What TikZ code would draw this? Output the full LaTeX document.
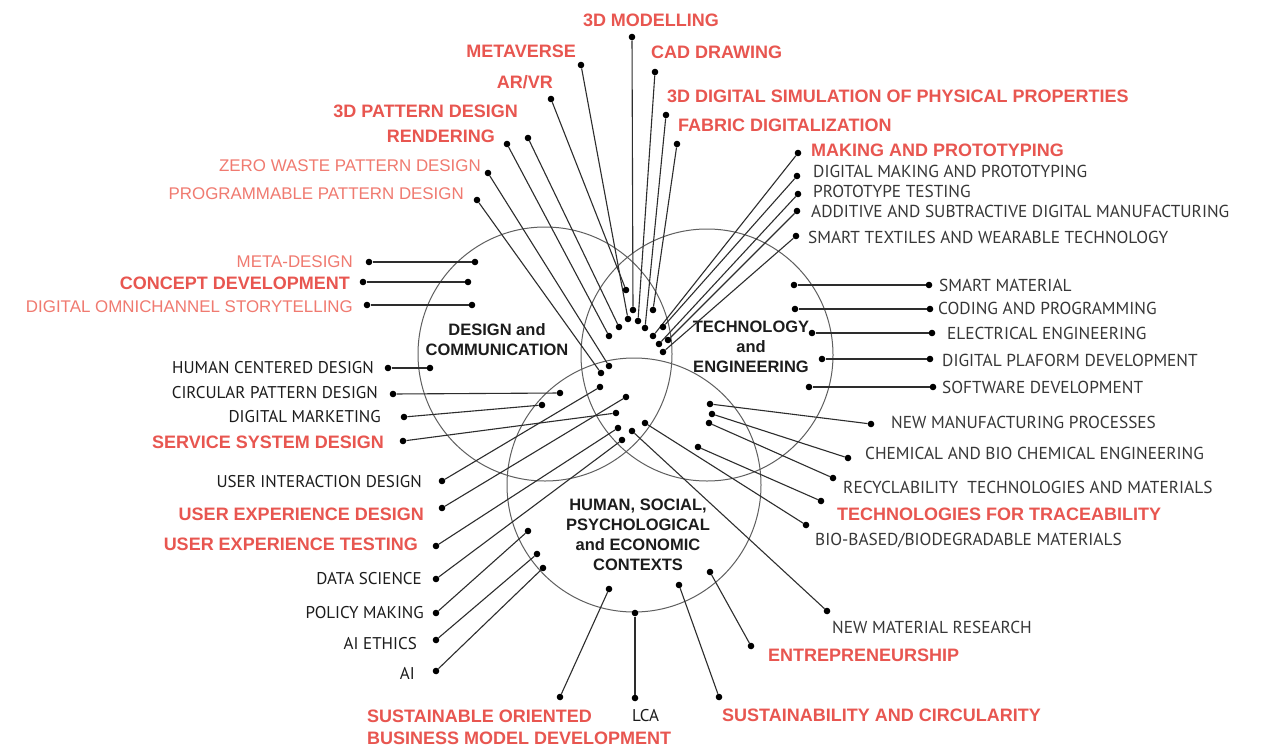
\documentclass[tikz,border=0pt]{standalone}
\usepackage{fontspec}
\setmainfont{Liberation Sans}
\newfontfamily\graysans{PT Sans}
\definecolor{redb}{RGB}{232,86,80}
\definecolor{redl}{RGB}{240,122,112}
\definecolor{inkd}{RGB}{28,28,28}
\definecolor{inkg}{RGB}{55,55,55}
\definecolor{ringc}{RGB}{95,95,95}
\definecolor{linkc}{RGB}{45,45,45}

\newcommand\spoke[3]{%
  \node[dot] (#1o) at (#2) {};
  \node[dot] (#1i) at (#3) {};
  \draw[link] (#1o) -- (#1i);}

\begin{document}
\begin{tikzpicture}[x=1pt,y=-1pt,
  dot/.style={circle,fill=black,inner sep=0pt,minimum size=6.6pt},
  link/.style={draw=linkc,line width=1.1pt},
  ring/.style={draw=ringc,line width=1pt},
  lbl/.style={inner sep=0pt,text depth=0pt},
  redbold/.style={lbl,text height=12.9pt,font=\bfseries\fontsize{18}{21}\selectfont,text=redb},
  redlight/.style={lbl,text height=12.2pt,font=\fontsize{16.9}{20}\selectfont,text=redl},
  grayt/.style={lbl,text height=12pt,font=\graysans\fontsize{17.3}{20}\selectfont,text=inkg},
  darkt/.style={lbl,text height=11.9pt,font=\graysans\fontsize{17}{20}\selectfont,text=inkd},
  title/.style={inner sep=0pt,align=center,font=\bfseries\fontsize{16.5}{20}\selectfont,text=inkd}]
\useasboundingbox (0,0) rectangle (1261,747);
\fill[white] (0,0) rectangle (1261,747);

% the three overlapping fields
\draw[ring] (545,354) circle[radius=127pt];
\draw[ring] (707,355) circle[radius=126pt];
\draw[ring] (634,485) circle[radius=127pt];

\node[title] (design) at (497,340) {DESIGN and\\COMMUNICATION};
\node[title] (tech) at (751,347) {TECHNOLOGY\\and\\ENGINEERING};
\node[title] (human) at (638,535) {HUMAN, SOCIAL,\\PSYCHOLOGICAL\\and ECONOMIC\\CONTEXTS};

% spokes: outer dot, inner dot
\spoke{m3d}{632,37}{633,310}
\spoke{meta}{581,65}{628,319}
\spoke{cad}{655,72}{638,321}
\spoke{arvr}{551,99}{626,290}
\spoke{sim}{666,115}{645,328}
\spoke{fab}{677,144}{653,310}
\spoke{pat}{528,138}{619,327}
\spoke{rend}{507,144}{609,336}
\spoke{zero}{488,173}{609,366}
\spoke{prog}{477,200}{601,373}

\spoke{mak}{798,153}{653,336}
\spoke{dmp}{797,176}{663,327}
\spoke{pt}{798,194}{659,344}
\spoke{add}{797,211}{668,340}
\spoke{stw}{796,236}{663,352}

\spoke{sm}{929,285}{794,285}
\spoke{cod}{930,309}{795,309}
\spoke{ele}{932,333}{812,333}
\spoke{dpd}{930,359}{822,359}
\spoke{sw}{933,387}{809,387}

\spoke{nmp}{871,424}{710,404}
\spoke{chem}{848,458}{712,414}
\spoke{rec}{833,478}{709,423}
\spoke{trace}{821,501}{698,447}
\spoke{bio}{806,525}{645,423}
\spoke{nmr}{827,611}{632,431}

\spoke{entre}{751,646}{710,572}
\spoke{sust}{719,697}{679,585}
\spoke{lca}{635,698}{635,613}
\spoke{sobm}{560,697}{609,589}

\spoke{metad}{369,262}{475,262}
\spoke{conc}{363,282}{468,282}
\spoke{omni}{367,305}{472,305}
\spoke{hcd}{388,368}{430,368}
\spoke{cpd}{393,394}{560,393}
\spoke{dm}{404,417}{542,405}
\spoke{serv}{403,441}{616,413}

\spoke{uid}{442,481}{600,387}
\spoke{uxd}{442,508}{626,397}
\spoke{uxt}{436,546}{618,428}
\spoke{ds}{436,579}{622,440}
\spoke{pm}{436,613}{528,531}
\spoke{aie}{436,640}{537,554}
\spoke{ai}{436,671}{543,568}

% labels above
\node[redbold] (t3dm) at (651,20) {3D MODELLING};
\node[redbold,anchor=east] (tmeta) at (576,51) {METAVERSE};
\node[redbold,anchor=west] (tcad) at (651,52) {CAD DRAWING};
\node[redbold,anchor=east] (tarvr) at (553,82) {AR/VR};
\node[redbold,anchor=west] (tsim) at (667,96) {3D DIGITAL SIMULATION OF PHYSICAL PROPERTIES};
\node[redbold,anchor=east] (tpat) at (518,111) {3D PATTERN DESIGN};
\node[redbold,anchor=west] (tfab) at (678,125) {FABRIC DIGITALIZATION};
\node[redbold,anchor=east] (trend) at (495,136) {RENDERING};
\node[redbold,anchor=west] (tmak) at (811,150) {MAKING AND PROTOTYPING};
\node[redlight,anchor=east] (tzero) at (481,165) {ZERO WASTE PATTERN DESIGN};
\node[redlight,anchor=east] (tprog) at (464,193) {PROGRAMMABLE PATTERN DESIGN};

% labels on the right
\node[grayt,anchor=west] (tdmp) at (813,171) {DIGITAL MAKING AND PROTOTYPING};
\node[grayt,anchor=west] (tpt) at (813,191) {PROTOTYPE TESTING};
\node[grayt,anchor=west] (tadd) at (811,211) {ADDITIVE AND SUBTRACTIVE DIGITAL MANUFACTURING};
\node[grayt,anchor=west] (tstw) at (808,237) {SMART TEXTILES AND WEARABLE TECHNOLOGY};
\node[grayt,anchor=west] (tsm) at (939,285) {SMART MATERIAL};
\node[grayt,anchor=west] (tcod) at (938,308) {CODING AND PROGRAMMING};
\node[grayt,anchor=west] (tele) at (947,333) {ELECTRICAL ENGINEERING};
\node[grayt,anchor=west] (tdpd) at (942,360) {DIGITAL PLAFORM DEVELOPMENT};
\node[grayt,anchor=west] (tsw) at (942,387) {SOFTWARE DEVELOPMENT};
\node[grayt,anchor=west] (tnmp) at (891,422) {NEW MANUFACTURING PROCESSES};
\node[grayt,anchor=west] (tchem) at (865,453) {CHEMICAL AND BIO CHEMICAL ENGINEERING};
\node[grayt,anchor=west] (trec) at (843,487) {RECYCLABILITY\ \ TECHNOLOGIES AND MATERIALS};
\node[redbold,anchor=west] (ttrace) at (837,514) {TECHNOLOGIES FOR TRACEABILITY};
\node[grayt,anchor=west] (tbio) at (815,539) {BIO-BASED/BIODEGRADABLE MATERIALS};
\node[grayt,anchor=west] (tnmr) at (832,627) {NEW MATERIAL RESEARCH};
\node[redbold,anchor=west] (tentre) at (768,655) {ENTREPRENEURSHIP};

% labels below
\node[redbold,anchor=west] (tsust) at (722,715) {SUSTAINABILITY AND CIRCULARITY};
\node[darkt,anchor=west] (tlca) at (632,716) {LCA};
\node[inner sep=0pt,anchor=north west,align=left,font=\bfseries\fontsize{18}{22}\selectfont,text=redb]
  (tsobm) at (367,709.5) {SUSTAINABLE ORIENTED\\BUSINESS MODEL DEVELOPMENT};

% labels on the left
\node[redlight,anchor=east] (tmetad) at (353,261) {META-DESIGN};
\node[redbold,anchor=east] (tconc) at (350,283) {CONCEPT DEVELOPMENT};
\node[redlight,anchor=east] (tomni) at (353,306) {DIGITAL OMNICHANNEL STORYTELLING};
\node[darkt,anchor=east] (thcd) at (374,368) {HUMAN CENTERED DESIGN};
\node[darkt,anchor=east] (tcpd) at (378,393) {CIRCULAR PATTERN DESIGN};
\node[darkt,anchor=east] (tdm) at (381,417) {DIGITAL MARKETING};
\node[redbold,anchor=east] (tserv) at (384,442) {SERVICE SYSTEM DESIGN};
\node[darkt,anchor=east] (tuid) at (422,482) {USER INTERACTION DESIGN};
\node[redbold,anchor=east] (tuxd) at (424,514) {USER EXPERIENCE DESIGN};
\node[redbold,anchor=east] (tuxt) at (418,544) {USER EXPERIENCE TESTING};
\node[darkt,anchor=east] (tds) at (422,579) {DATA SCIENCE};
\node[darkt,anchor=east] (tpm) at (424,613) {POLICY MAKING};
\node[darkt,anchor=east] (taie) at (417,644) {AI ETHICS};
\node[darkt,anchor=east] (tai) at (415,674) {AI};
\end{tikzpicture}
\end{document}
